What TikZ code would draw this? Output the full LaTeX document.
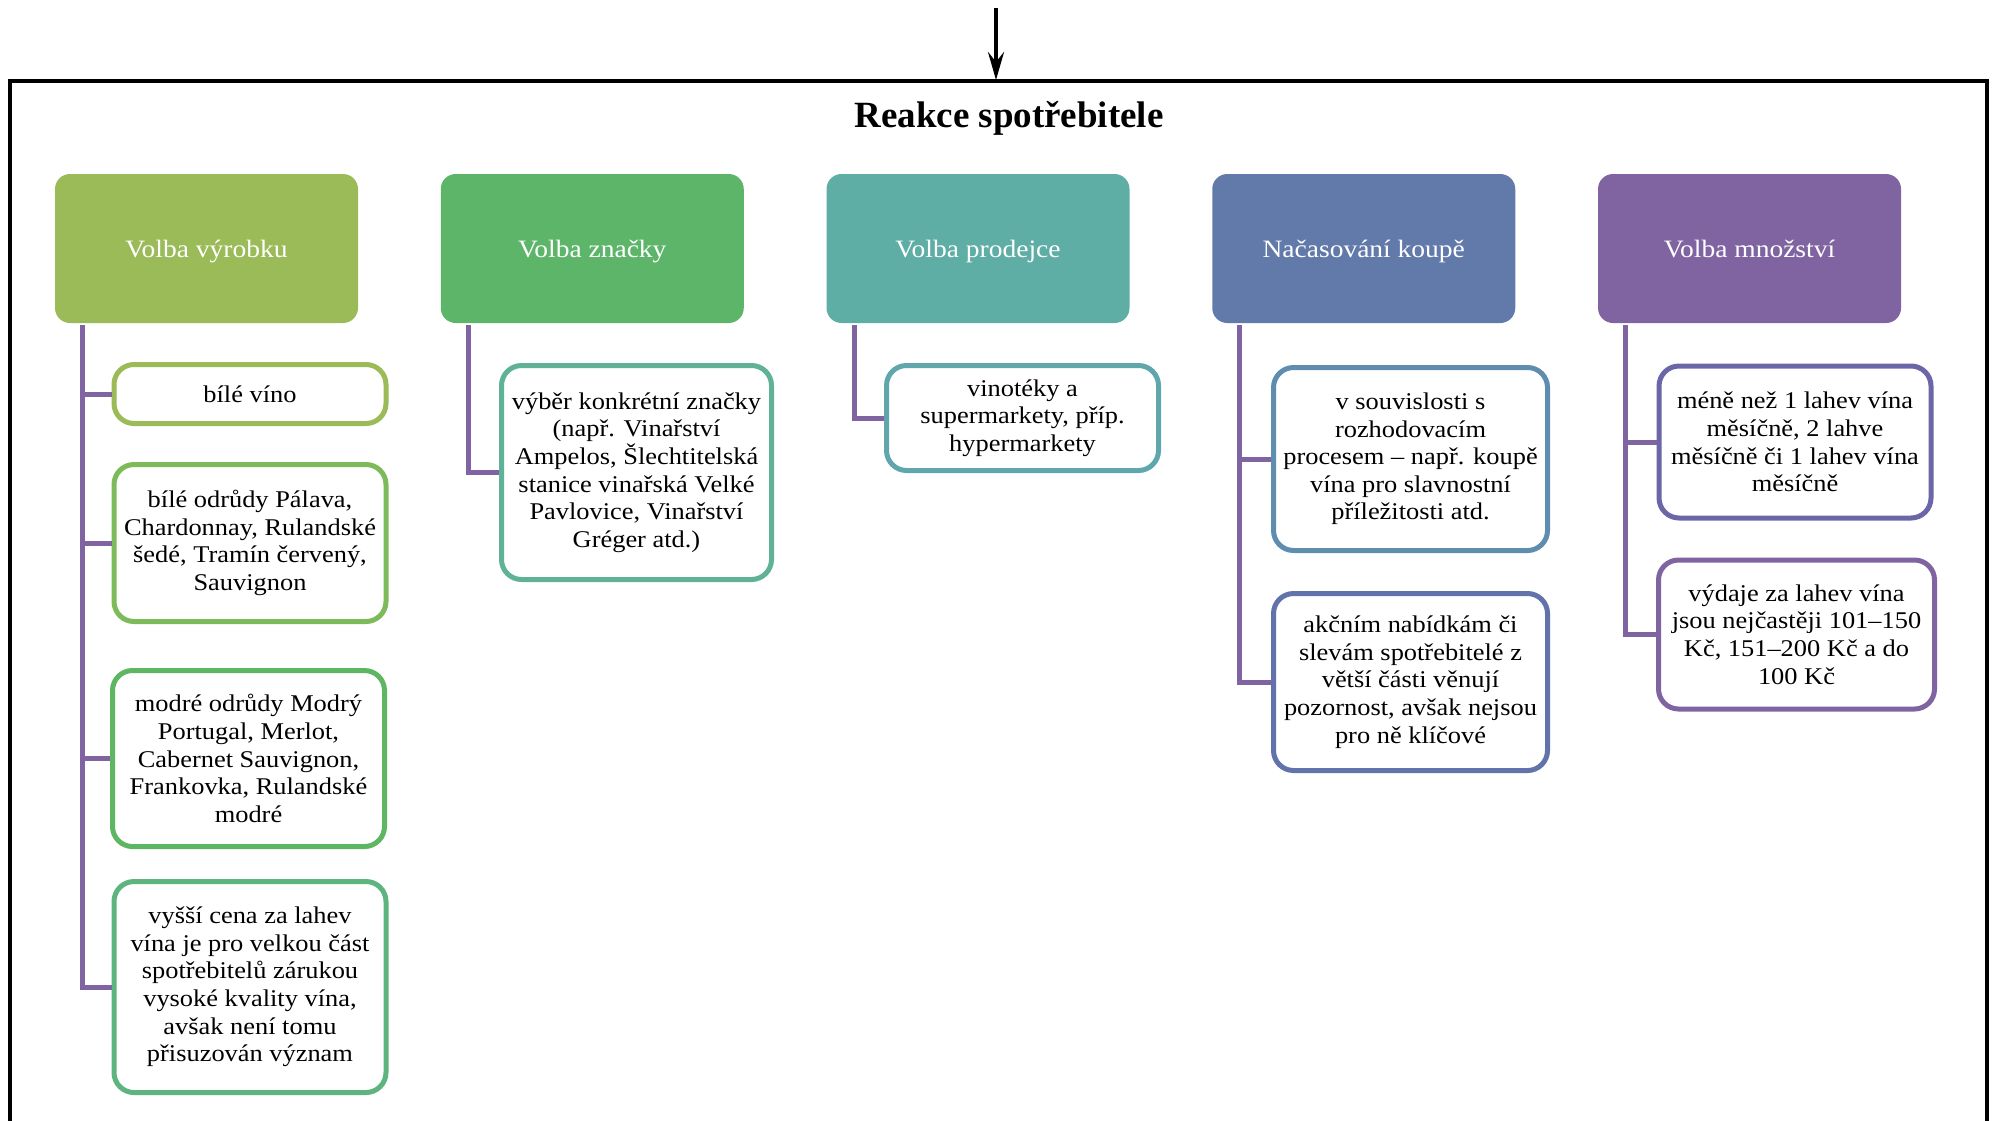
\documentclass[tikz,border=0pt]{standalone}
\usepackage{fontspec}
\setmainfont{Liberation Serif}
\newfontfamily\bodyserif{Liberation Serif}[FakeStretch=1.1]
\usetikzlibrary{calc,arrows.meta}
\definecolor{hA}{HTML}{9BBB59}
\definecolor{hB}{HTML}{5DB56A}
\definecolor{hC}{HTML}{5FAEA6}
\definecolor{hD}{HTML}{627AA9}
\definecolor{hE}{HTML}{8064A2}
\definecolor{bA}{HTML}{9BBB59}
\definecolor{bB}{HTML}{7DBA5A}
\definecolor{bC}{HTML}{5EB663}
\definecolor{bD}{HTML}{5DB47E}
\definecolor{bE}{HTML}{5FB298}
\definecolor{bF}{HTML}{5FA7AC}
\definecolor{bG}{HTML}{5E8DB0}
\definecolor{bH}{HTML}{6272AA}
\definecolor{bI}{HTML}{6A66A8}
\definecolor{bJ}{HTML}{8064A2}
\definecolor{conncol}{HTML}{8064A2}
\newcommand{\bodytext}{\bodyserif\fontsize{12}{13.8}\selectfont}
\newcommand{\headtext}{\bodyserif\fontsize{12.5}{14}\selectfont}
\tikzset{
  headbox/.style={rounded corners=7.5pt, minimum width=151.5pt, minimum height=74.5pt,
    inner sep=0pt, text=white, font=\headtext, align=center, text height=11.5pt, text depth=2.5pt},
  leafbox/.style={draw, line width=2.5pt, rounded corners=10pt, fill=white,
    minimum width=136pt, inner sep=0pt, align=center, font=\bodytext},
  conn/.style={draw=conncol, line width=2.5pt},
  frameline/.style={draw=black, line width=1.8pt},
}
\begin{document}
\begin{tikzpicture}[x=0.5pt,y=-0.5pt]
\useasboundingbox (0,0) rectangle (1995,1120);
% frame and arrow
\coordinate (fbl) at (10,1130);
\coordinate (ftl) at (10,81);
\coordinate (ftr) at (1987,81);
\coordinate (fbr) at (1987,1130);
\draw[frameline] (fbl) -- (ftl) -- (ftr) -- (fbr);
\coordinate (arrtop) at (996,8);
\coordinate (arrend) at (996,80);
\draw[line width=2pt, -{Stealth[length=14pt,width=8pt,inset=5pt]}] (arrtop) -- (arrend);
\node[font=\fontsize{18.5}{22}\selectfont\bfseries, anchor=base] (title) at (1009,127) {Reakce spotřebitele};
% headers
\node[headbox, fill=hA] (h1) at (206.5,248.5) {Volba výrobku};
\node[headbox, fill=hB] (h2) at (592.25,248.5) {Volba značky};
\node[headbox, fill=hC] (h3) at (978,248.5) {Volba prodejce};
\node[headbox, fill=hD] (h4) at (1363.75,248.5) {Načasování koupě};
\node[headbox, fill=hE] (h5) at (1749.5,248.5) {Volba množství};
% leaves column 1
\node[leafbox, draw=bA, minimum height=29.5pt] (c1a) at (250,394) {bílé víno};
\node[leafbox, draw=bB, minimum height=78.5pt] (c1b) at (250,543) {bílé odrůdy Pálava,\\Chardonnay, Rulandské\\šedé, Tramín červený,\\Sauvignon};
\node[leafbox, draw=bC, minimum height=88pt] (c1c) at (248.5,758.5) {modré odrůdy Modrý\\Portugal, Merlot,\\Cabernet Sauvignon,\\Frankovka, Rulandské\\modré};
\node[leafbox, draw=bD, minimum height=105.5pt] (c1d) at (250,987) {vyšší cena za lahev\\vína je pro velkou část\\spotřebitelů zárukou\\vysoké kvality vína,\\avšak není tomu\\přisuzován význam};
% column 2
\node[leafbox, draw=bE, minimum width=135pt, minimum height=107pt] (c2) at (636.5,472.5) {výběr konkrétní značky\\(např. Vinařství\\Ampelos, Šlechtitelská\\stanice vinařská Velké\\Pavlovice, Vinařství\\Gréger atd.)};
% column 3
\node[leafbox, draw=bF, minimum height=52.5pt] (c3) at (1022.5,418) {vinotéky a\\supermarkety, příp.\\hypermarkety};
% column 4
\node[leafbox, draw=bG, minimum width=137pt, minimum height=91.5pt] (c4a) at (1410.5,459) {v souvislosti s\\rozhodovacím\\procesem – např. koupě\\vína pro slavnostní\\příležitosti atd.};
\node[leafbox, draw=bH, minimum width=137pt, minimum height=88.5pt] (c4b) at (1410.5,682) {akčním nabídkám či\\slevám spotřebitelé z\\větší části věnují\\pozornost, avšak nejsou\\pro ně klíčové};
% column 5
\node[leafbox, draw=bI, minimum width=136pt, minimum height=76pt] (c5a) at (1795,442) {méně než 1 lahev vína\\měsíčně, 2 lahve\\měsíčně či 1 lahev vína\\měsíčně};
\node[leafbox, draw=bJ, minimum width=138pt, minimum height=74.5pt] (c5b) at (1796.5,634.5) {výdaje za lahev vína\\jsou nejčastěji 101–150\\Kč, 151–200 Kč a do\\100 Kč};
% connectors
\coordinate (s1) at ($(h1.south west)+(28,2)$);
\coordinate (s2) at ($(h2.south west)+(28,2)$);
\coordinate (s3) at ($(h3.south west)+(28,2)$);
\coordinate (s4) at ($(h4.south west)+(28,2)$);
\coordinate (s5) at ($(h5.south west)+(28,2)$);
\draw[conn] (s1) |- (c1d.west);
\draw[conn] (s1) |- (c1a.west);
\draw[conn] (s1) |- (c1b.west);
\draw[conn] (s1) |- (c1c.west);
\draw[conn] (s2) |- (c2.west);
\draw[conn] (s3) |- (c3.west);
\draw[conn] (s4) |- (c4b.west);
\draw[conn] (s4) |- (c4a.west);
\draw[conn] (s5) |- (c5b.west);
\draw[conn] (s5) |- (c5a.west);
\end{tikzpicture}
\end{document}
